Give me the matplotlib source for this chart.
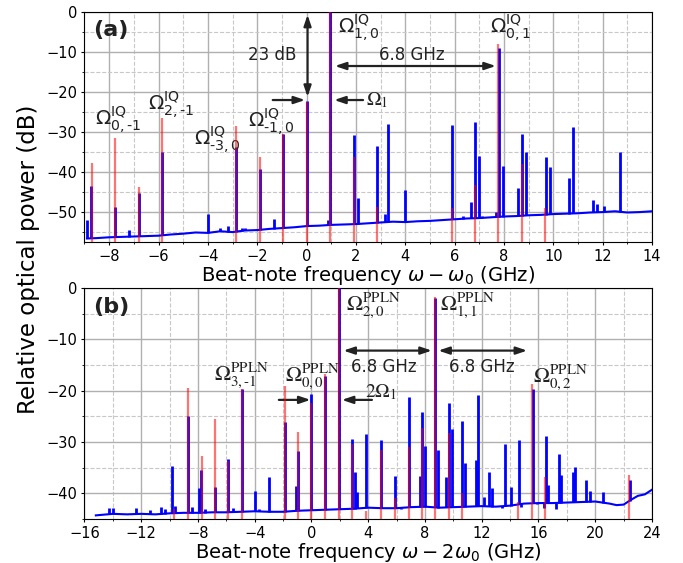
import numpy as np
import matplotlib
matplotlib.use("Agg")
import matplotlib.pyplot as plt
from matplotlib.ticker import MultipleLocator

# ---------------- Panel (a) data ----------------
a_base_f = [-8.9, -8.5, -8.0, -7.5, -7.0, -6.5, -6.0, -5.5, -5.0, -4.5, -4.0, -3.5, -3.0, -2.5, -2.0,
            -1.5, -1.0, -0.5, 0.0, 0.5, 1.0, 1.5, 2.0, 2.5, 3.0, 3.5, 4.0, 4.5, 5.0, 5.5, 6.0,
            6.5, 7.0, 7.5, 8.0, 8.5, 9.0, 9.5, 10.0, 10.5, 11.0, 11.5, 12.0, 12.5, 13.0, 13.5, 14.0]
a_base_p = [-56.6, -56.5, -56.3, -56.2, -56.1, -56.0, -55.9, -55.6, -55.4, -55.1, -55.2, -54.8, -55.0, -54.6, -54.5,
            -54.2, -54.0, -53.8, -53.5, -53.4, -53.2, -53.1, -53.0, -52.8, -52.6, -52.4, -52.5, -52.3, -52.2, -52.0, -51.8,
            -51.6, -51.5, -51.3, -51.1, -51.0, -50.8, -50.7, -50.5, -50.4, -50.3, -50.1, -50.0, -49.8, -50.1, -50.0, -49.8]

a_blue_f = [-8.91, -8.75, -7.76, -7.2, -6.79, -5.86, -3.98, -3.5, -3.2, -2.85, -2.6, -2.5, -1.89, -1.32,
            -0.97, 0.0, 0.87, 0.95, 1.92, 2.09, 2.85, 3.19, 3.29, 3.99, 5.9, 6.34, 6.67, 6.82, 6.99,
            7.1, 7.67, 7.8, 7.95, 8.11, 8.56, 8.72, 8.9, 9.71, 9.86, 10.63, 10.79, 11.59, 11.76, 12.07,
            12.7, 12.76]
a_blue_p = [-52.0, -43.4, -48.8, -54.5, -45.3, -35.1, -50.5, -54.0, -53.6, -33.8, -54.0, -54.0, -39.3, -51.7,
            -30.4, -22.2, -52.0, 0.0, -30.8, -46.4, -33.5, -50.5, -28.1, -44.4, -28.3, -50.9, -47.5, -27.6, -35.9,
            -51.0, -50.0, -8.9, -38.5, -51.0, -44.1, -30.6, -35.0, -36.3, -38.8, -41.5, -28.7, -46.9, -48.0, -48.5,
            -35.0, -50.0]

a_red_f = [-8.71, -7.76, -6.79, -5.86, -2.85, -1.89, -0.97, 0.0, 0.95, 1.92, 2.85, 5.90, 6.82, 7.76, 8.72, 9.67]
a_red_p = [-37.8, -31.5, -43.8, -26.4, -28.4, -36.3, -30.4, -22.5, 0.0, -36.3, -48.8, -48.9, -43.2, -8.0, -37.9, -48.9]

# ---------------- Panel (b) data ----------------
b_base_f = [-15.2, -14.0, -13.0, -12.0, -11.0, -10.0, -9.0, -8.0, -7.0, -6.0, -5.0, -4.0, -3.0, -2.0, -1.0,
            0.0, 1.0, 2.0, 3.0, 4.0, 5.0, 6.0, 7.0, 8.0, 9.0, 10.0, 11.0, 12.0, 13.0, 14.0, 15.0,
            16.0, 17.0, 18.0, 19.0, 20.0, 21.0, 21.5, 22.0, 22.5, 23.0, 23.5, 24.0]
b_base_p = [-44.3, -44.0, -44.1, -44.0, -44.1, -43.9, -43.8, -43.8, -43.7, -43.7, -43.6, -43.5, -43.6, -43.6, -43.4,
            -43.3, -43.2, -43.1, -43.0, -42.8, -42.9, -42.9, -42.7, -42.6, -42.8, -42.7, -42.6, -42.5, -42.6, -42.4, -42.0,
            -41.9, -41.9, -41.8, -41.7, -41.6, -42.0, -42.3, -42.2, -41.3, -40.5, -40.2, -39.3]

b_blue_f = [-14.26, -14.0, -12.36, -11.4, -10.6, -10.35, -9.82, -9.6, -8.69, -8.4, -7.94, -7.8, -7.5,
            -6.79, -5.85, -5.5, -4.89, -3.99, -3.7, -2.98, -1.88, -1.08, -0.96, 0.0, 0.96, 1.95, 2.5,
            2.86, 3.08, 3.22, 3.83, 4.93, 5.87, 6.3, 6.84, 7.64, 7.78, 7.99, 8.73, 8.93, 9.49, 9.7,
            9.89, 10.64, 10.8, 11.6, 11.77, 12.17, 12.54, 12.71, 13.4, 13.66, 14.04, 14.64, 14.8,
            15.6, 15.9, 16.4, 16.53, 16.7, 17.2, 17.47, 17.6, 18.4, 18.58, 19.37, 19.6, 20.52, 21.4, 22.43]
b_blue_p = [-42.8, -42.8, -42.9, -43.2, -42.6, -43.1, -34.6, -42.5, -25.0, -42.7, -38.9, -35.4, -43.0,
            -38.7, -33.3, -42.9, -19.7, -39.5, -43.0, -36.9, -26.2, -38.5, -31.8, -20.7, -17.2, 0.0, -42.9,
            -29.4, -35.8, -39.7, -28.4, -29.6, -36.7, -43.0, -21.3, -36.7, -24.2, -30.7, -2.0, -31.5, -36.9, -22.4,
            -27.4, -25.9, -34.1, -33.5, -20.9, -40.7, -35.8, -39.0, -42.8, -30.4, -38.8, -29.6, -42.6,
            -19.7, -42.0, -42.9, -28.9, -38.3, -43.0, -32.3, -36.4, -35.8, -34.9, -37.4, -39.5, -39.8, -42.3, -37.4]

b_red_f = [-9.66, -8.69, -7.73, -6.79, -5.85, -4.89, -1.88, -0.96, 0.0, 0.96, 1.95, 2.86, 3.84, 4.9,
           5.87, 6.84, 7.78, 8.73, 9.7, 10.64, 14.58, 15.53, 16.48, 22.35]
b_red_p = [-43.1, -19.4, -32.7, -25.5, -33.7, -19.7, -19.0, -28.0, -22.4, -16.8, 0.0, -30.4, -43.4, -31.5,
           -40.9, -30.9, -27.3, -1.8, -28.3, -40.0, -41.6, -18.7, -36.8, -36.4]

# ---------------- Figure ----------------
plt.rcParams['font.family'] = ['DejaVu Sans']
fig = plt.figure(figsize=(6.83, 5.63), dpi=100)
L, R = 0.1237, 0.9546
axA = fig.add_axes([L, 0.570, R - L, 0.9787 - 0.570])
axB = fig.add_axes([L, 0.0782, R - L, 0.4885 - 0.0782])

TXT = '#222222'
ARW = dict(arrowstyle='-|>,head_length=0.65,head_width=0.22', color=TXT, lw=1.6,
           mutation_scale=10, shrinkA=0, shrinkB=0)
DARW = dict(arrowstyle='<|-|>,head_length=0.65,head_width=0.22', color=TXT, lw=1.6,
            mutation_scale=10, shrinkA=0, shrinkB=0)


def draw_panel(ax, bf, bp, blf, blp, rf, rp, xlim, ylim, xmaj, xmin, xlabel):
    ax.set_xlim(*xlim)
    ax.set_ylim(*ylim)
    ax.xaxis.set_major_locator(MultipleLocator(xmaj))
    ax.xaxis.set_minor_locator(MultipleLocator(xmin))
    ax.yaxis.set_major_locator(MultipleLocator(10))
    ax.yaxis.set_minor_locator(MultipleLocator(5))
    ax.grid(which='major', color='#b0b0b0', lw=1.0, ls='-')
    ax.grid(which='minor', color='#c8c8c8', lw=0.8, ls='--')
    ax.set_axisbelow(True)
    ax.tick_params(which='major', length=2.5, labelsize=10.5, direction='out', pad=2.5)
    ax.tick_params(which='minor', length=1.5, direction='out')
    # measured trace baseline
    ax.plot(bf, bp, color='blue', lw=1.5, zorder=3)
    # blue spikes rising from the trace
    base_at = np.interp(blf, bf, bp)
    ax.vlines(blf, base_at, blp, color='blue', lw=2.0, zorder=3)
    # red theory lines
    ax.vlines(rf, ylim[0], rp, color='red', lw=1.6, alpha=0.55, zorder=4)
    ax.set_xlabel(xlabel, fontsize=14, labelpad=0)


draw_panel(axA, a_base_f, a_base_p, a_blue_f, a_blue_p, a_red_f, a_red_p,
           (-9, 14), (-57.5, 0), 2, 1, r'Beat-note frequency $\omega-\omega_0$ (GHz)')
draw_panel(axB, b_base_f, b_base_p, b_blue_f, b_blue_p, b_red_f, b_red_p,
           (-16, 24), (-45, 0), 4, 2, r'Beat-note frequency $\omega-2\omega_0$ (GHz)')

fig.text(0.042, 0.54, 'Relative optical power (dB)', rotation=90, va='center', ha='center', fontsize=16.5)

# ---- panel (a) annotations ----
axA.text(-8.65, -4.5, '(a)', fontsize=16, fontweight='bold', va='center', ha='left', color=TXT)
iq = dict(fontsize=14.5, color=TXT, va='center', ha='left')
axA.text(-8.57, -27.0, r'$\Omega^{\mathrm{IQ}}_{0,\text{-1}}$', **iq)
axA.text(-6.44, -23.3, r'$\Omega^{\mathrm{IQ}}_{2,\text{-1}}$', **iq)
axA.text(-4.56, -32.1, r'$\Omega^{\mathrm{IQ}}_{\text{-3},0}$', **iq)
axA.text(-2.37, -27.6, r'$\Omega^{\mathrm{IQ}}_{\text{-1},0}$', **iq)
axA.text(1.28, -4.0, r'$\Omega^{\mathrm{IQ}}_{1,0}$', **iq)
axA.text(7.44, -4.0, r'$\Omega^{\mathrm{IQ}}_{0,1}$', **iq)
axA.annotate('', xy=(0.04, -0.7), xytext=(0.04, -21.2), arrowprops=DARW)
axA.text(-1.4, -10.8, '23 dB', fontsize=12, ha='center', va='center', color=TXT)
axA.annotate('', xy=(1.15, -13.5), xytext=(7.67, -13.5), arrowprops=DARW)
axA.text(4.28, -10.8, '6.8 GHz', fontsize=12, ha='center', va='center', color=TXT)
axA.annotate('', xy=(-0.06, -22.0), xytext=(-1.37, -22.0), arrowprops=ARW)
axA.annotate('', xy=(1.12, -22.0), xytext=(2.29, -22.0), arrowprops=ARW)
axA.text(2.41, -22.0, r'$\Omega_1$', fontsize=14, ha='left', va='center', color=TXT,
         math_fontfamily='stix')

# ---- panel (b) annotations ----
axB.text(-15.4, -3.8, '(b)', fontsize=16, fontweight='bold', va='center', ha='left', color=TXT)
pp = dict(fontsize=15.5, color=TXT, va='center', ha='left', math_fontfamily='stix')
axB.text(-6.86, -16.9, r'$\Omega^{\mathrm{PPLN}}_{3,\text{-}1}$', **pp)
axB.text(-1.86, -17.1, r'$\Omega^{\mathrm{PPLN}}_{0,0}$', **pp)
axB.text(2.44, -3.3, r'$\Omega^{\mathrm{PPLN}}_{2,0}$', **pp)
axB.text(9.07, -3.3, r'$\Omega^{\mathrm{PPLN}}_{1,1}$', **pp)
axB.text(15.6, -17.3, r'$\Omega^{\mathrm{PPLN}}_{0,2}$', **pp)
axB.annotate('', xy=(2.25, -12.2), xytext=(8.48, -12.2), arrowprops=DARW)
axB.annotate('', xy=(8.94, -12.2), xytext=(15.2, -12.2), arrowprops=DARW)
axB.text(5.12, -15.3, '6.8 GHz', fontsize=12, ha='center', va='center', color=TXT)
axB.text(12.0, -15.3, '6.8 GHz', fontsize=12, ha='center', va='center', color=TXT)
axB.annotate('', xy=(-0.07, -21.8), xytext=(-2.3, -21.8), arrowprops=ARW)
axB.annotate('', xy=(2.14, -21.8), xytext=(4.26, -21.8), arrowprops=ARW)
axB.text(3.78, -20.2, r'$2\Omega_1$', fontsize=14, ha='left', va='center', color=TXT,
         math_fontfamily='stix')

fig.savefig('out.png', dpi=100)
